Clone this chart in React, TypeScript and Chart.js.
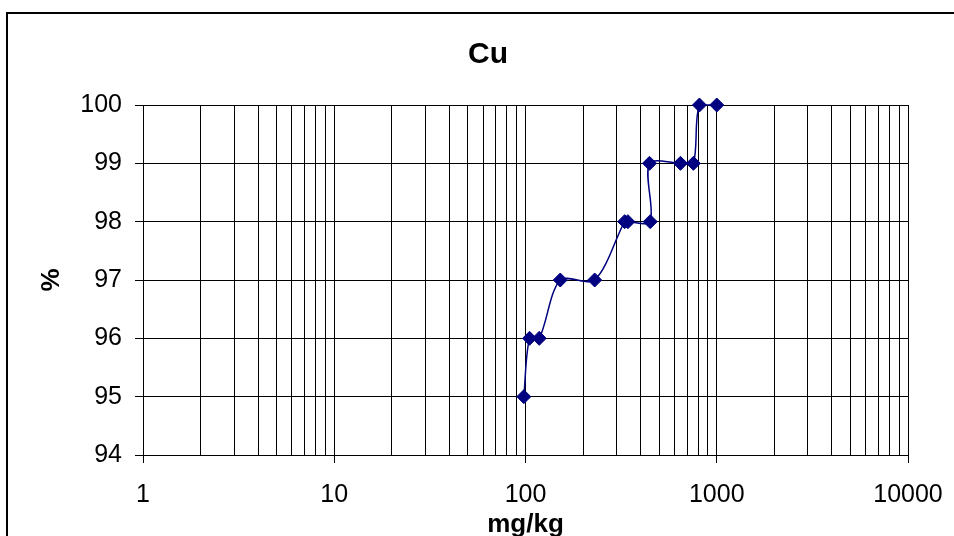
import React, { useEffect, useRef } from "react";
import { Chart, registerables } from "chart.js";

Chart.register(...registerables);

const chartTitle = "Cu";
const xAxisTitle = "mg/kg";
const yAxisTitle = "%";

// concentration (mg/kg) and cumulative percentage
const xValues = [98, 105, 118, 152, 230, 330, 343, 449, 445, 646, 755, 812, 1000];
const yValues = [95, 96, 96, 97, 97, 98, 98, 98, 99, 99, 99, 100, 100];

const xDecades = [1, 10, 100, 1000, 10000];
const xMinorSteps = [1, 2, 3, 4, 5, 6, 7, 8, 9];
const yMin = 94;
const yMax = 100;
const yStep = 1;

const FONT = "'Liberation Sans', Arial, sans-serif";

const isDecade = (v: number) => xDecades.some((d) => Math.abs(d - v) < 1e-6);

const frame = {
  id: "frame",
  beforeDraw(chart: any) {
    const { ctx, width, height } = chart;
    ctx.save();
    ctx.fillStyle = "#ffffff";
    ctx.fillRect(0, 0, width, height);
    ctx.strokeStyle = "#000000";
    ctx.lineWidth = 2;
    ctx.beginPath();
    ctx.moveTo(7, height + 2);
    ctx.lineTo(7, 13);
    ctx.lineTo(width + 2, 13);
    ctx.stroke();
    ctx.restore();
  },
  afterDraw(chart: any) {
    const { ctx } = chart;
    ctx.save();
    ctx.fillStyle = "#000000";
    ctx.font = `bold 30px ${FONT}`;
    ctx.textAlign = "center";
    ctx.textBaseline = "middle";
    ctx.fillText(chartTitle, 488, 55);
    ctx.restore();
  },
};

export default function App() {
  const ref = useRef<HTMLCanvasElement | null>(null);

  useEffect(() => {
    if (!ref.current) return;
    const gridValues: number[] = [];
    xDecades.slice(0, -1).forEach((d) => xMinorSteps.forEach((m) => gridValues.push(d * m)));
    gridValues.push(xDecades[xDecades.length - 1]);

    const chart = new Chart(ref.current, {
      type: "line",
      data: {
        datasets: [
          {
            data: xValues.map((x, i) => ({ x, y: yValues[i] })),
            borderColor: "#000080",
            backgroundColor: "#000080",
            borderWidth: 1.5,
            pointStyle: "rectRot",
            pointRadius: 7,
            pointBorderWidth: 1,
            pointBackgroundColor: "#000080",
            pointBorderColor: "#000080",
            tension: 0.3,
            clip: false as any,
          },
        ],
      },
      options: {
        animation: false,
        responsive: false,
        layout: { padding: { left: 0, top: 105, right: 46, bottom: 0 } },
        plugins: {
          legend: { display: false },
          tooltip: { enabled: false },
          title: { display: false },
        },
        scales: {
          x: {
            type: "logarithmic",
            min: xDecades[0],
            max: xDecades[xDecades.length - 1],
            afterBuildTicks: (scale: any) => {
              scale.ticks = gridValues.map((v) => ({ value: v }));
            },
            afterFit: (scale: any) => {
              scale.height = 81;
              scale.paddingLeft = 0;
              scale.paddingRight = 0;
            },
            ticks: {
              autoSkip: false,
              maxRotation: 0,
              minRotation: 0,
              color: "#000",
              padding: 17,
              font: { family: FONT, size: 25 },
              callback: (v: any) => (isDecade(Number(v)) ? String(Math.round(Number(v))) : ""),
            },
            grid: {
              color: "#000",
              lineWidth: 1,
              tickLength: 8,
              tickColor: (ctx: any) => (ctx.tick && isDecade(ctx.tick.value) ? "#000" : "rgba(0,0,0,0)"),
            },
            border: { color: "#000", width: 1 },
            title: {
              display: true,
              text: xAxisTitle,
              color: "#000",
              font: { family: FONT, size: 26, weight: "bold", lineHeight: 1 },
              padding: { top: 0, bottom: -2 },
            },
          },
          y: {
            type: "linear",
            min: yMin,
            max: yMax,
            afterFit: (scale: any) => {
              scale.width = 143;
              scale.paddingTop = 0;
              scale.paddingBottom = 0;
            },
            ticks: {
              stepSize: yStep,
              color: "#000",
              padding: 13,
              font: { family: FONT, size: 25 },
            },
            grid: {
              color: "#000",
              lineWidth: 1,
              tickLength: 8,
              tickColor: "#000",
            },
            border: { color: "#000", width: 1 },
            title: {
              display: true,
              text: yAxisTitle,
              color: "#000",
              font: { family: FONT, size: 26, weight: "bold", lineHeight: 1.2 },
              padding: { top: 36, bottom: 0 },
            },
          },
        },
      },
      plugins: [frame],
    });
    return () => chart.destroy();
  }, []);

  return (
    <div style={{ position: "absolute", left: 0, top: 0, width: 954, height: 536 }}>
      <canvas ref={ref} width={954} height={536} style={{ display: "block" }} />
    </div>
  );
}
